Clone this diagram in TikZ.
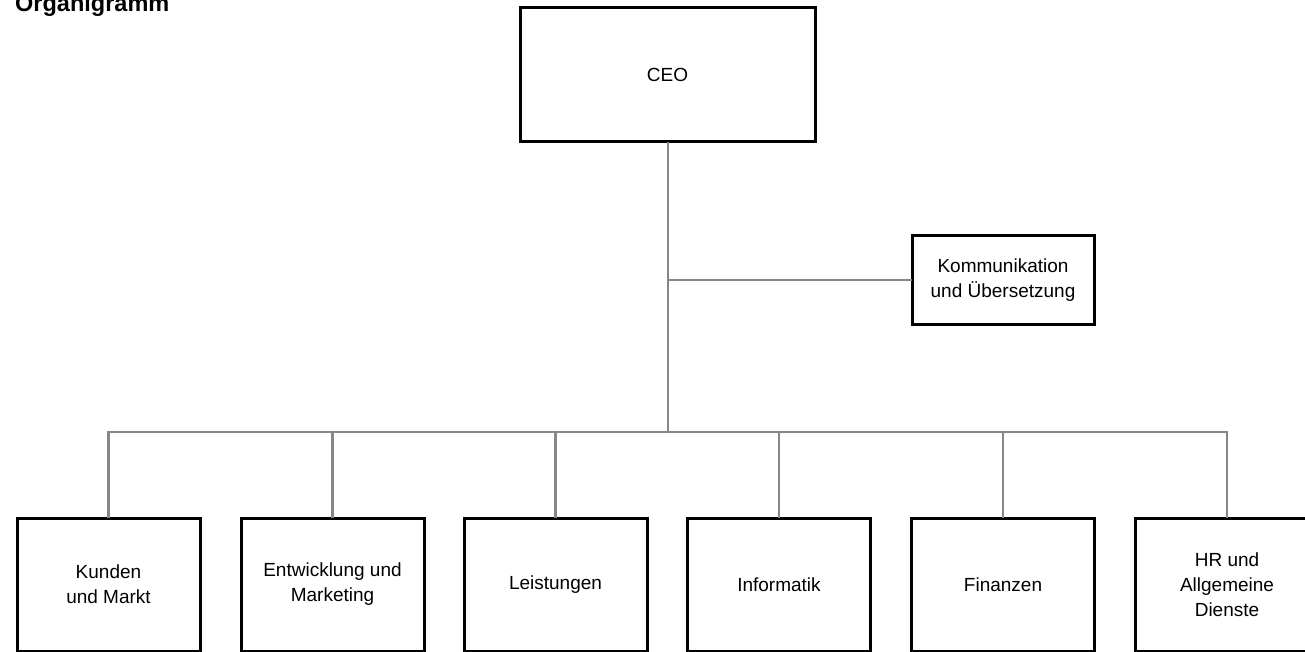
\documentclass[tikz,border=0pt]{standalone}
\usepackage{fontspec}
\setmainfont{Liberation Sans}
\definecolor{conngray}{RGB}{135,135,135}
\begin{document}
\begin{tikzpicture}[x=1pt,y=-1pt,
  box/.style={draw=black,line width=3pt,fill=white,inner sep=0pt,outer sep=0pt,
    align=center,font=\fontsize{19}{25}\selectfont},
  unit/.style={box,minimum width=183pt,minimum height=133pt},
  conn/.style={draw=conngray,line width=2.2pt}]
\useasboundingbox (0,0) rectangle (1305,652);
\node[anchor=base west,inner sep=0pt,font=\fontsize{23.5}{28}\selectfont\bfseries] (title) at (15,12) {Organigramm};
\node[box,minimum width=295pt,minimum height=134pt] (ceo) at (667.5,75) {CEO};
\node[box,minimum width=182pt,minimum height=89pt] (kom) at (1003,280) {Kommunikation\\und Übersetzung};
\node[unit] (k1) at (108.5,584.5) {Kunden\\und Markt};
\node[unit] (k2) at (332.5,584.5) {Entwicklung und\\Marketing};
\node[unit] (k3) at (555.5,584.5) {Leistungen};
\node[unit] (k4) at (779,584.5) {Informatik};
\node[unit] (k5) at (1003,584.5) {Finanzen};
\node[unit] (k6) at (1227,584.5) {HR und\\Allgemeine\\Dienste};
\coordinate (bus) at (668,432);
\coordinate (kjoin) at (668,280);
\draw[conn] (ceo.south -| bus) -- (bus);
\draw[conn] (kjoin) -- (kjoin -| kom.west);
\foreach \k in {k1,k2,k3,k4,k5,k6}{
  \draw[conn] (bus) -| (\k.north);
}
\end{tikzpicture}
\end{document}
